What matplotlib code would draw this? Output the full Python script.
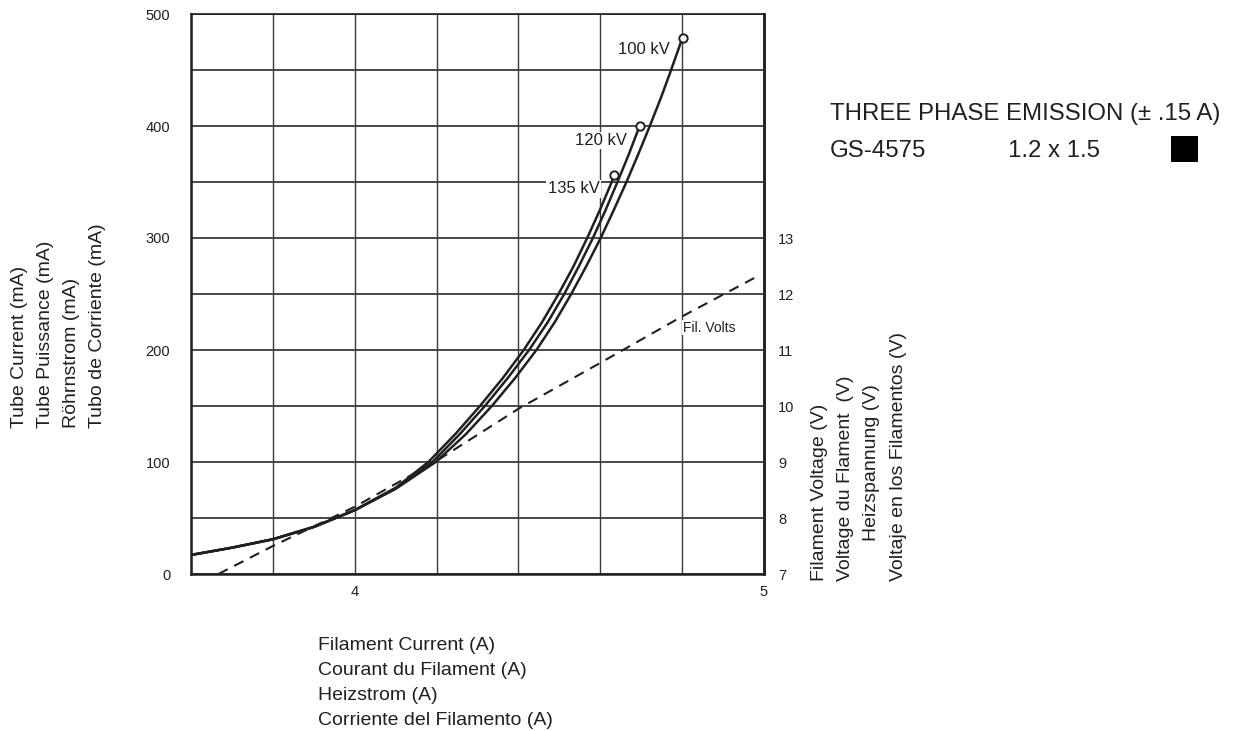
import numpy as np
import matplotlib
matplotlib.use("Agg")
import matplotlib.pyplot as plt
from matplotlib.patches import Rectangle

plt.rcParams['font.family'] = ['Liberation Sans', 'DejaVu Sans']

# filament current (A) vs tube current (mA)
fil_a_100 = [3.6, 3.7, 3.8, 3.9, 4.0, 4.1, 4.198, 4.272, 4.335, 4.392, 4.444, 4.489, 4.529, 4.566,
             4.601, 4.633, 4.664, 4.693, 4.721, 4.748, 4.773, 4.801]
ma_100 = [17, 23.5, 31, 42, 57, 76, 100, 125, 150, 175, 200, 225, 250, 275,
          300, 325, 350, 375, 400, 425, 450, 479]

fil_a_120 = [3.6, 3.7, 3.8, 3.9, 4.0, 4.1, 4.190, 4.257, 4.318, 4.374, 4.426, 4.472, 4.512, 4.548,
             4.582, 4.613, 4.642, 4.670, 4.696]
ma_120 = [17, 23.5, 31, 42, 57, 76.5, 100, 125, 150, 175, 200, 225, 250, 275,
          300, 325, 350, 375, 400]

fil_a_135 = [3.6, 3.7, 3.8, 3.9, 4.0, 4.1, 4.180, 4.246, 4.306, 4.362, 4.413, 4.458, 4.498, 4.535,
             4.568, 4.599, 4.628, 4.633]
ma_135 = [17, 23.5, 31, 42, 57, 77, 100, 125, 150, 175, 200, 225, 250, 275,
          300, 325, 350, 356]

# filament voltage (V), dashed line
fil_a_volts = [3.667, 3.8, 4.0, 4.2, 4.4, 4.6, 4.8, 4.99]
fil_volts = [7.0, 7.5, 8.2, 9.02, 9.95, 10.77, 11.6, 12.34]

kv_labels = ['100 kV', '120 kV', '135 kV']
kv_label_pos = [(4.77, 468), (4.666, 387), (4.598, 344)]

left_label = ['Tube Current (mA)', 'Tube Puissance (mA)', 'Röhrnstrom (mA)', 'Tubo de Corriente (mA)']
right_label = ['Filament Voltage (V)', 'Voltage du Flament  (V)', 'Heizspannung (V)', 'Voltaje en los Filamentos (V)']
bottom_label = ['Filament Current (A)', 'Courant du Filament (A)', 'Heizstrom (A)', 'Corriente del Filamento (A)']

ink = '#231f20'
W, H = 1238, 731

fig = plt.figure(figsize=(W / 100, H / 100), dpi=100)
ax = fig.add_axes([191 / W, 1 - 574 / H, (764 - 191) / W, (574 - 14) / H])
ax.set_xlim(3.6, 5.0)
ax.set_ylim(0, 500)
ax.set_xticks([4, 5])
ax.set_xticks(np.arange(3.6, 5.01, 0.2), minor=True)
ax.set_yticks(np.arange(0, 501, 100))
ax.set_yticks(np.arange(0, 501, 50), minor=True)
ax.set_axisbelow(True)
ax.grid(axis='x', which='both', color='#3a3a3a', lw=1.0)
ax.grid(axis='y', which='both', color='#3a3a3a', lw=1.3)
ax.tick_params(which='both', length=0, labelsize=10.5, labelcolor=ink)
ax.tick_params(axis='y', pad=15)
ax.tick_params(axis='x', pad=8)
for s in ['left', 'bottom', 'right']:
    ax.spines[s].set_linewidth(1.8)
    ax.spines[s].set_color(ink)
ax.spines['top'].set_linewidth(1.2)
ax.spines['top'].set_color(ink)

for xs, ys in [(fil_a_100, ma_100), (fil_a_120, ma_120), (fil_a_135, ma_135)]:
    ax.plot(xs, ys, color=ink, lw=1.8, zorder=3)
    ax.plot(xs[-1:], ys[-1:], 'o', ms=6, mfc='white', mec=ink, mew=1.4, zorder=4)

for lab, (lx, ly) in zip(kv_labels, kv_label_pos):
    ax.text(lx, ly, lab, ha='right', va='center', fontsize=12, color=ink, zorder=1.5,
            bbox=dict(facecolor='white', edgecolor='none', pad=1))

ax2 = ax.twinx()
ax2.set_ylim(7, 17)
ax2.set_yticks(np.arange(7, 14, 1))
ax2.tick_params(length=0, labelsize=10.5, labelcolor=ink, pad=10)
for s in ['left', 'bottom', 'top']:
    ax2.spines[s].set_visible(False)
ax2.spines['right'].set_linewidth(1.8)
ax2.spines['right'].set_color(ink)
ax2.plot(fil_a_volts, fil_volts, color=ink, lw=1.5, dashes=(5, 3.5))
ax2.text(4.802, 11.4, 'Fil. Volts', ha='left', va='center', fontsize=10, color=ink,
         bbox=dict(facecolor='white', edgecolor='none', pad=0.5))

# multilingual axis titles
for i, (lab, cx) in enumerate(zip(left_label, [20, 46, 72, 98])):
    fig.text(cx / W, 1 - 428 / H, lab, rotation=90, ha='center', va='bottom', fontsize=14, color=ink)
for i, (lab, cx) in enumerate(zip(right_label, [820, 846, 872, 899])):
    y0 = 541 if i == 2 else 581
    fig.text(cx / W, 1 - y0 / H, lab, rotation=90, ha='center', va='bottom', fontsize=14, color=ink)
for i, lab in enumerate(bottom_label):
    fig.text(318 / W, 1 - (650 + 25 * i) / H, lab, ha='left', va='baseline', fontsize=14, color=ink)

fig.text(830 / W, 1 - 120 / H, 'THREE PHASE EMISSION (± .15 A)', ha='left', va='baseline', fontsize=17.3, color=ink)
fig.text(830 / W, 1 - 157 / H, 'GS-4575', ha='left', va='baseline', fontsize=17.3, color=ink)
fig.text(1008 / W, 1 - 157 / H, '1.2 x 1.5', ha='left', va='baseline', fontsize=17.3, color=ink)
fig.patches.append(Rectangle((1171 / W, 1 - 162 / H), 27 / W, 26 / H, transform=fig.transFigure,
                             facecolor='black', edgecolor='none'))

fig.savefig('out.png', dpi=100)
